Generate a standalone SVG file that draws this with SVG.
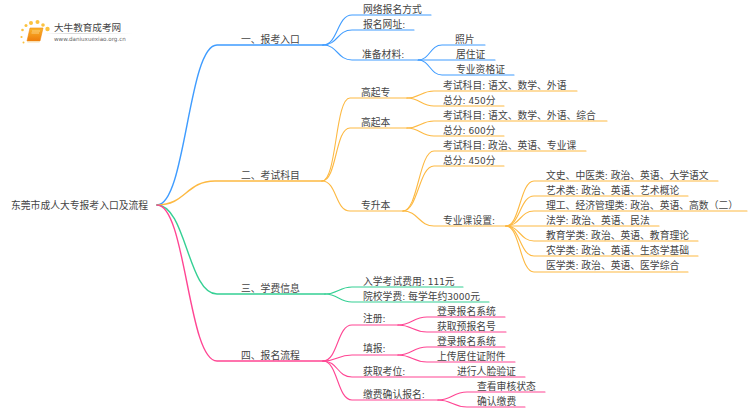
<svg xmlns="http://www.w3.org/2000/svg" width="750" height="410" viewBox="0 0 750 410">
<style>
text{font-family:"DejaVu Sans","Noto Sans CJK SC",sans-serif;font-size:9.8px;fill:#444}
tspan{font-size:9px}
.l{fill:none;stroke-width:1.1;stroke-linecap:round}
.t{stroke-width:1.4}
.b{stroke:#3f9cff}.o{stroke:#fdb942}.g{stroke:#35d094}.p{stroke:#ff4593}
</style>
<defs><linearGradient id="fade"><stop offset="0" stop-color="#ccc" stop-opacity="0"/><stop offset=".3" stop-color="#ccc"/><stop offset="1" stop-color="#ccc" stop-opacity="0"/></linearGradient>
<linearGradient id="bk" x1="0" y1="0" x2="0" y2="1"><stop offset="0" stop-color="#fbb52a"/><stop offset="1" stop-color="#ee7d0c"/></linearGradient></defs>
<g id="connectors">
<g class="l t b"><path d="M157 205C186 205 188 45 217 45H323"/></g>
<g class="l t o"><path d="M157 205C186 205 186 181 215 181H322"/></g>
<g class="l t g"><path d="M157 205C186 205 188 294 217 294H325"/></g>
<g class="l t p"><path d="M157 205C186 205 188 361 217 361H323"/></g>
<g class="l b">
<path d="M323 45C338 45 337 15 352 15H431"/><path d="M323 45C338 45 337 30 352 30H414"/><path d="M323 45C338 45 337 60 352 60H417"/>
<path d="M418 60C430 60 430 45 442 45H485"/><path d="M418 60C430 60 430 60 442 60H495"/><path d="M418 60C430 60 430 75 442 75H514"/>
</g>
<g class="l o">
<path d="M322 181C337 181 335 98 350 98H407"/><path d="M322 181C337 181 335 128 350 128H407"/><path d="M322 181C337 181 335 211 350 211H403"/>
<path d="M407 98C420 98 421 91 434 91H577"/><path d="M407 98C420 98 421 106 434 106H504"/>
<path d="M407 128C420 128 421 121 434 121H607"/><path d="M407 128C420 128 421 136 434 136H504"/>
<path d="M403 211C418 211 419 151 434 151H586"/><path d="M403 211C418 211 419 166 434 166H504"/><path d="M403 211C418 211 419 226 434 226H506"/>
<path d="M506 226C520 226 520 181 534 181H718"/><path d="M506 226C520 226 520 196 534 196H688"/><path d="M506 226C520 226 520 211 534 211H747"/><path d="M506 226H659"/><path d="M506 226C520 226 520 241 534 241H698"/><path d="M506 226C520 226 520 256 534 256H698"/><path d="M506 226C520 226 520 272 534 272H688"/>
</g>
<g class="l g"><path d="M325 294C338 294 339 287 352 287H463"/><path d="M325 294C338 294 339 302 352 302H489"/></g>
<g class="l p">
<path d="M323 361C338 361 337 325 352 325H398"/><path d="M323 361C338 361 337 355 352 355H398"/><path d="M323 361C338 361 337 377 352 377H525"/><path d="M323 361C338 361 337 400 352 400H438"/>
<path d="M398 325C412 325 413 317 427 317H505"/><path d="M398 325C412 325 413 332 427 332H506"/>
<path d="M398 355C412 355 413 347 427 347H505"/><path d="M398 355C412 355 413 362 427 362H515"/>
<path d="M438 400C452 400 453 392 467 392H545"/><path d="M438 400C452 400 453 407 467 407H525"/>
</g>
</g>
<g id="logo">
<g fill="#fbc23f"><circle cx="37.500" cy="22" r="2"/><circle cx="31" cy="23" r="2"/><circle cx="43" cy="25" r="1.800"/><circle cx="47.500" cy="29" r="2.200"/><circle cx="26" cy="25.500" r="1.500"/><circle cx="22.500" cy="30" r="1.300"/><circle cx="21.500" cy="37" r="1.100"/><circle cx="23.500" cy="42.500" r="1"/></g>
<path d="M30 28H43L40 41H27Z" fill="url(#bk)" stroke="#f08a12" stroke-width=".6" stroke-linejoin="round"/><path d="M27 41H40L39.500 42.500H27.500Z" fill="#f8dfb4"/><path d="M32 31H40M31.500 33H39" stroke="#fde3a8" stroke-width=".7"/>
<rect x="45" y="33" width="88" height=".8" fill="url(#fade)"/>
<text x="54" y="30.500" style="font-size:9.600px;fill:#444">大牛教育成考网</text>
<text x="54" y="41" style="font-size:5.600px;fill:#666">www.daniuxuexiao.org.cn</text>
</g>
<g id="root"><text x="11" y="208.500">东莞市成人大专报考入口及流程</text></g>
<g id="n1"><text x="241" y="43">一、报考入口</text></g>
<g id="n1-1"><text x="363" y="13">网络报名方式</text></g>
<g id="n1-2"><text x="363" y="28">报名网址<tspan>:</tspan></text></g>
<g id="n1-3"><text x="362" y="58">准备材料<tspan>:</tspan></text></g>
<g id="n1-3-1"><text x="455" y="43">照片</text></g>
<g id="n1-3-2"><text x="456" y="58">居住证</text></g>
<g id="n1-3-3"><text x="456" y="73">专业资格证</text></g>
<g id="n2"><text x="241" y="179">二、考试科目</text></g>
<g id="n2-1"><text x="361" y="96">高起专</text></g>
<g id="n2-1-1"><text x="443" y="88.500">考试科目<tspan>: </tspan>语文、数学、外语</text></g>
<g id="n2-1-2"><text x="443" y="104">总分<tspan>: 450</tspan>分</text></g>
<g id="n2-2"><text x="361" y="126">高起本</text></g>
<g id="n2-2-1"><text x="443" y="118.500">考试科目<tspan>: </tspan>语文、数学、外语、综合</text></g>
<g id="n2-2-2"><text x="443" y="134">总分<tspan>: 600</tspan>分</text></g>
<g id="n2-3"><text x="361" y="209">专升本</text></g>
<g id="n2-3-1"><text x="443" y="148.500">考试科目<tspan>: </tspan>政治、英语、专业课</text></g>
<g id="n2-3-2"><text x="443" y="164">总分<tspan>: 450</tspan>分</text></g>
<g id="n2-3-3"><text x="443" y="224">专业课设置<tspan>:</tspan></text></g>
<g id="n2-3-3-1"><text x="546" y="178.500">文史、中医类<tspan>: </tspan>政治、英语、大学语文</text></g>
<g id="n2-3-3-2"><text x="546" y="194">艺术类<tspan>: </tspan>政治、英语、艺术概论</text></g>
<g id="n2-3-3-3"><text x="546" y="209">理工、经济管理类<tspan>: </tspan>政治、英语、高数（二）</text></g>
<g id="n2-3-3-4"><text x="546" y="224">法学<tspan>: </tspan>政治、英语、民法</text></g>
<g id="n2-3-3-5"><text x="546" y="239">教育学类<tspan>: </tspan>政治、英语、教育理论</text></g>
<g id="n2-3-3-6"><text x="546" y="254">农学类<tspan>: </tspan>政治、英语、生态学基础</text></g>
<g id="n2-3-3-7"><text x="546" y="269">医学类<tspan>: </tspan>政治、英语、医学综合</text></g>
<g id="n3"><text x="241" y="292">三、学费信息</text></g>
<g id="n3-1"><text x="363" y="284.500">入学考试费用<tspan>: 111</tspan>元</text></g>
<g id="n3-2"><text x="363" y="299.500">院校学费<tspan>: </tspan>每学年约<tspan>3000</tspan>元</text></g>
<g id="n4"><text x="241" y="359">四、报名流程</text></g>
<g id="n4-1"><text x="363" y="322">注册<tspan>:</tspan></text></g>
<g id="n4-1-1"><text x="437" y="314.500">登录报名系统</text></g>
<g id="n4-1-2"><text x="437" y="330">获取预报名号</text></g>
<g id="n4-2"><text x="363" y="352">填报<tspan>:</tspan></text></g>
<g id="n4-2-1"><text x="437" y="344.500">登录报名系统</text></g>
<g id="n4-2-2"><text x="437" y="359.500">上传居住证附件</text></g>
<g id="n4-3"><text x="363" y="374.500">获取考位<tspan>:</tspan></text></g>
<g id="n4-3-1"><text x="457" y="374.500">进行人脸验证</text></g>
<g id="n4-4"><text x="363" y="397.500">缴费确认报名<tspan>:</tspan></text></g>
<g id="n4-4-1"><text x="477" y="389.500">查看审核状态</text></g>
<g id="n4-4-2"><text x="477" y="404.500">确认缴费</text></g>
</svg>
